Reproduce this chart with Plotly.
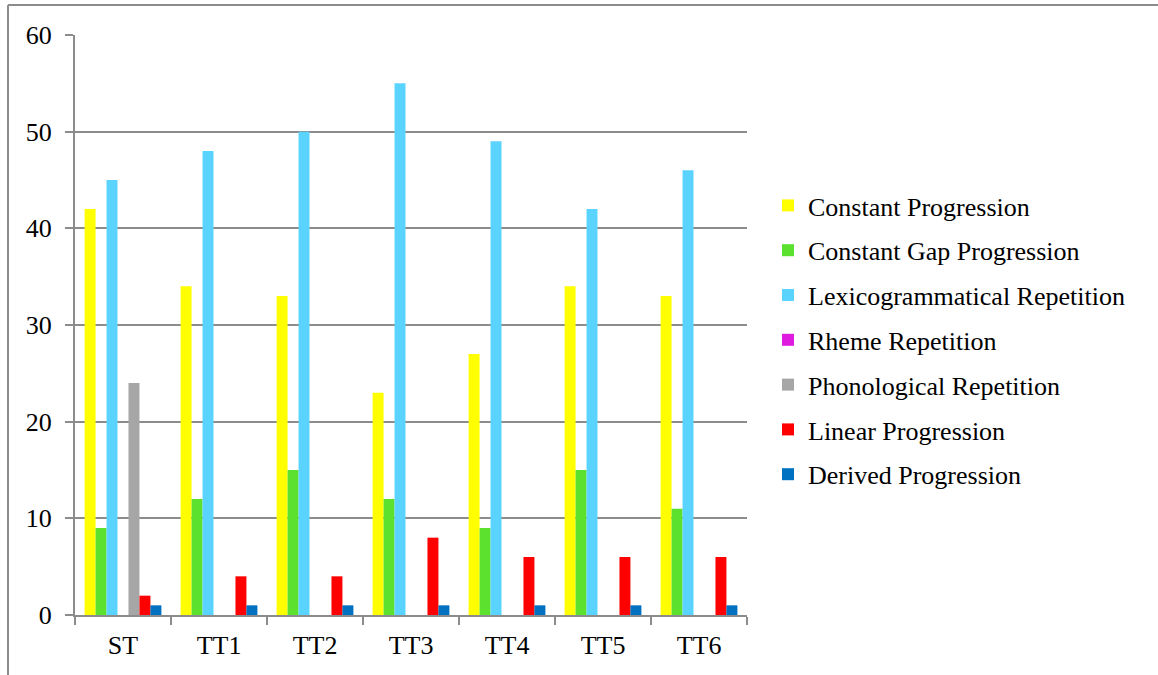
import plotly.graph_objects as go

categories = ["ST", "TT1", "TT2", "TT3", "TT4", "TT5", "TT6"]

series_names = [
    "Constant Progression",
    "Constant Gap Progression",
    "Lexicogrammatical Repetition",
    "Rheme Repetition",
    "Phonological Repetition",
    "Linear Progression",
    "Derived Progression",
]

constant_progression = [42, 34, 33, 23, 27, 34, 33]
constant_gap_progression = [9, 12, 15, 12, 9, 15, 11]
lexicogrammatical_repetition = [45, 48, 50, 55, 49, 42, 46]
rheme_repetition = [0, 0, 0, 0, 0, 0, 0]
phonological_repetition = [24, 0, 0, 0, 0, 0, 0]
linear_progression = [2, 4, 4, 8, 6, 6, 6]
derived_progression = [1, 1, 1, 1, 1, 1, 1]

series_values = [
    constant_progression,
    constant_gap_progression,
    lexicogrammatical_repetition,
    rheme_repetition,
    phonological_repetition,
    linear_progression,
    derived_progression,
]

colors = ["#FFFF00", "#5BE12E", "#5BD3FF", "#E01BE0", "#A6A6A6", "#FF0000", "#0070C0"]

y_ticks = [0, 10, 20, 30, 40, 50, 60]

W, H = 1158, 675
ML, MR, MT, MB = 75, 411, 35, 60

fig = go.Figure()
for i, (name, vals, col) in enumerate(zip(series_names, series_values, colors)):
    fig.add_trace(go.Bar(
        name=name,
        x=categories,
        y=vals,
        marker=dict(color=col, line=dict(width=0)),
        legendgroup=f"g{i}",
    ))

gray = "#8C8C8C"
font = dict(family="Liberation Serif, Times New Roman, serif", size=26, color="#000000")

fig.update_layout(
    width=W,
    height=H,
    margin=dict(l=ML, r=MR, t=MT, b=MB, pad=0),
    paper_bgcolor="white",
    plot_bgcolor="white",
    barmode="group",
    bargap=0.2,
    bargroupgap=0,
    font=font,
    showlegend=True,
    legend=dict(
        x=1 + (768 - (W - MR)) / (W - ML - MR),
        y=0.5 + ((MT + (H - MT - MB) / 2) - 340) / (H - MT - MB),
        xanchor="left",
        yanchor="middle",
        traceorder="grouped",
        tracegroupgap=8,
        font=font,
        itemwidth=30,
        bgcolor="rgba(0,0,0,0)",
    ),
    xaxis=dict(
        showline=True,
        linecolor=gray,
        linewidth=2,
        ticks="outside",
        ticklen=8,
        tickcolor=gray,
        tickwidth=2,
        tickson="boundaries",
        showgrid=False,
        tickfont=font,
        zeroline=False,
        ticklabelstandoff=6,
    ),
    yaxis=dict(
        range=[0, 60],
        tickvals=y_ticks,
        showline=True,
        linecolor=gray,
        linewidth=2,
        ticks="outside",
        ticklen=8,
        tickcolor=gray,
        tickwidth=2,
        showgrid=True,
        gridcolor=gray,
        gridwidth=2,
        zeroline=False,
        tickfont=font,
        ticklabelstandoff=8,
    ),
)

# outer frame: left and top edges
pw = W - ML - MR
ph = H - MT - MB
left_x = (8 - ML) / pw
top_y = 1 + (MT - 5) / ph
bottom_y = -(MB + 5) / ph
fig.add_shape(type="line", xref="paper", yref="paper",
              x0=left_x, x1=left_x, y0=bottom_y, y1=top_y,
              line=dict(color=gray, width=2))
fig.add_shape(type="line", xref="paper", yref="paper",
              x0=left_x, x1=(W + 5 - ML) / pw, y0=top_y, y1=top_y,
              line=dict(color=gray, width=2))

fig.write_html("out.html")
